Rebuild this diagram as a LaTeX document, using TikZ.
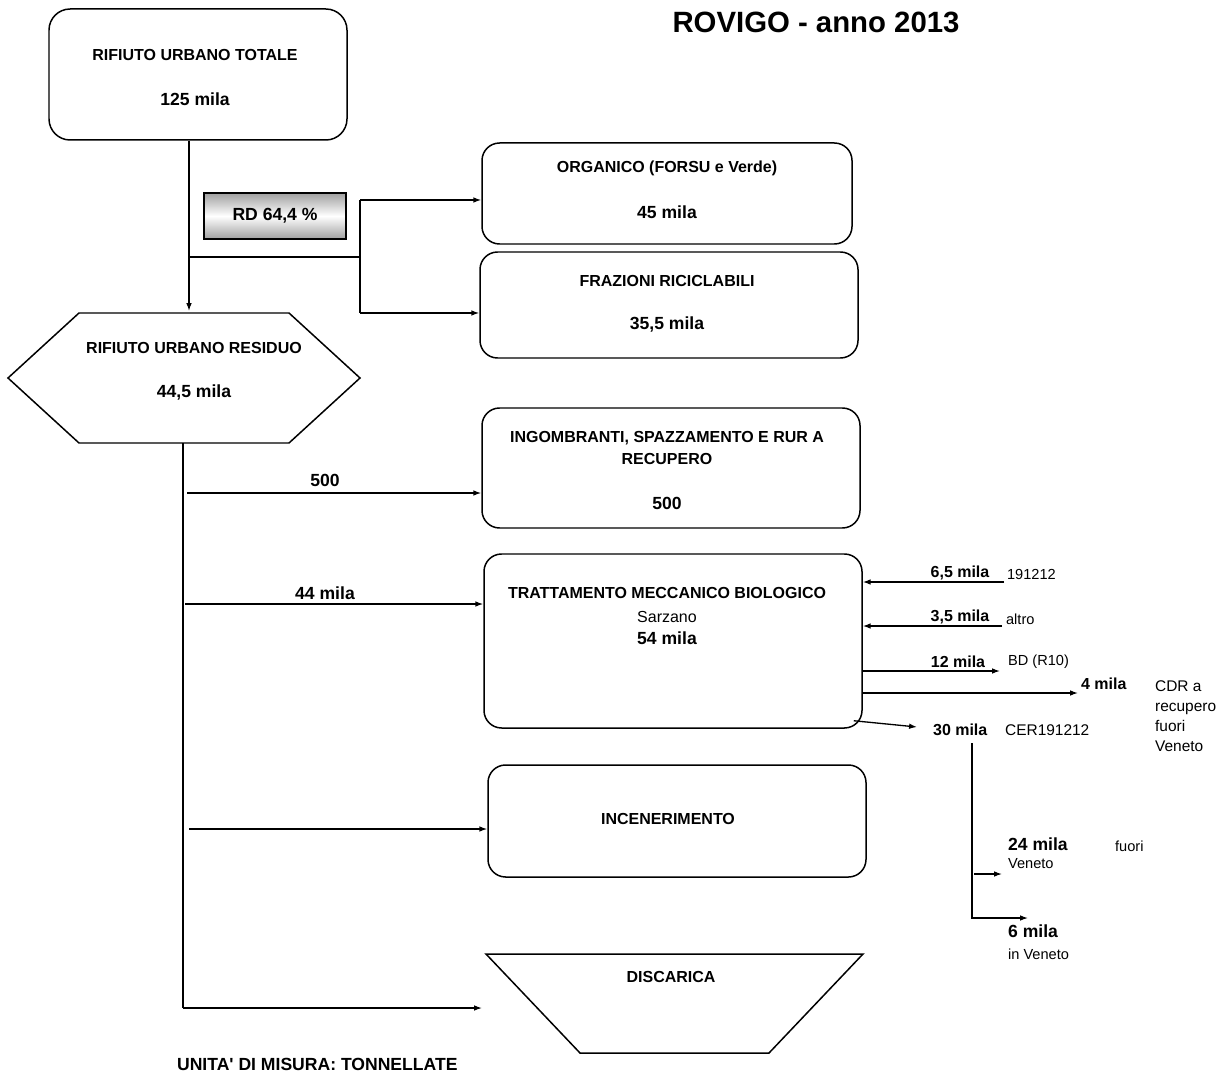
\documentclass[tikz,border=0pt]{standalone}
\usepackage{fontspec}
\setmainfont{Liberation Sans}
\usetikzlibrary{arrows.meta,fit}

\begin{document}
\begin{tikzpicture}[x=0.02cm,y=-0.02cm]
            \tikzset{
                box/.style={draw, line width=0.85pt, rounded corners=10pt, inner sep=0pt},
                hdr/.style={font=\bfseries\fontsize{9.1}{12}\selectfont, inner sep=1pt},
                num/.style={font=\bfseries\fontsize{10}{12}\selectfont, inner sep=1pt},
                note/.style={font=\fontsize{8.3}{10}\selectfont, inner sep=1pt},
                notel/.style={font=\fontsize{8.8}{11.4}\selectfont, inner sep=1pt},
                flow/.style={-{Latex[length=4.5pt,width=3.2pt]}, line width=0.75pt},
                link/.style={line width=0.75pt}
            }
            \useasboundingbox (0,0) rectangle (1226,1077);

            \node[font=\bfseries\fontsize{16.7}{20}\selectfont] (title) at (816,22) {ROVIGO - anno 2013};

            % caselle
            \node[box, rounded corners=12pt, fit={(49,9) (347,140)}] (tot) {};
            \node[hdr] (totT) at (195,55) {RIFIUTO URBANO TOTALE};
            \node[num] (totN) at (195,99) {125 mila};

            \node[draw, line width=1.2pt, inner sep=0pt,
                top color=gray!75, bottom color=gray!75, middle color=white,
                fit={(204,193) (346,239)}] (rd) {};
            \node[num] (rdT) at (rd.center) {RD 64,4 \%};

            \node[box, fit={(482,143) (852,244)}] (org) {};
            \node[hdr] (orgT) at (667,168) {ORGANICO (FORSU e Verde)};
            \node[num] (orgN) at (667,212) {45 mila};

            \node[box, fit={(480,252) (858,358)}] (fraz) {};
            \node[hdr] (frazT) at (667,281) {FRAZIONI RICICLABILI};
            \node[num] (frazN) at (667,324) {35,5 mila};

            \draw[line width=0.85pt] (79,313) -- (289,313) -- (360,378) -- (289,443)
                -- (79,443) -- (8,378) -- cycle;
            \node[hdr] (resT) at (194,348) {RIFIUTO URBANO RESIDUO};
            \node[num] (resN) at (194,392) {44,5 mila};

            \node[box, fit={(482,408) (860,528)}] (ing) {};
            \node[hdr, align=center] (ingT) at (667,448) {INGOMBRANTI, SPAZZAMENTO E RUR A\\RECUPERO};
            \node[num] (ingN) at (667,503) {500};

            \node[box, fit={(484,554) (862,728)}] (tmb) {};
            \node[hdr] (tmbT) at (667,593) {TRATTAMENTO MECCANICO BIOLOGICO};
            \node[font=\fontsize{9.1}{11}\selectfont, inner sep=1pt] (tmbS) at (667,617) {Sarzano};
            \node[num] (tmbN) at (667,638) {54 mila};

            \node[box, fit={(488,765) (866,877)}] (inc) {};
            \node[hdr] (incT) at (668,819) {INCENERIMENTO};

            \draw[line width=0.85pt] (486,954) -- (863,954) -- (769,1053) -- (580,1053) -- cycle;
            \node[hdr] (disT) at (671,977) {DISCARICA};

            \node[num, anchor=west] (unit) at (175,1064) {UNITA\textquotesingle{} DI MISURA: TONNELLATE};

            % punti di snodo
            \coordinate (resTop) at (189,311);
            \coordinate (resBot) at (183,443);
            \coordinate (rdSplit) at (189,257);
            \coordinate (rdHub) at (360,257);
            \coordinate (hubN) at (360,200);
            \coordinate (hubS) at (360,313);
            \coordinate (trunkEnd) at (183,1008);
            \coordinate (disIn) at (482,1008);
            \coordinate (b1) at (187,493);
            \coordinate (b2) at (185,604);
            \coordinate (b3) at (189,829);

            \draw[flow] (tot.south -| resTop) -- (resTop);
            \draw[link] (rdSplit) -- (rdHub);
            \draw[link] (hubN) -- (hubS);
            \draw[flow] (hubN) -- (org.west |- hubN);
            \draw[flow] (hubS) -- (fraz.west |- hubS);

            \draw[link] (resBot) -- (trunkEnd);
            \draw[flow] (trunkEnd) -- (disIn);
            \foreach \src/\dst in {b1/ing, b2/tmb, b3/inc} {
                \draw[flow] (\src) -- (\dst.west |- \src);
            }
            \node[num] (l500) at (325,480) {500};
            \node[num] (l44) at (325,593) {44 mila};

            % ingressi e uscite TMB
            \coordinate (in65) at (1004,582);
            \coordinate (in35) at (1002,626);
            \coordinate (out12) at (1000,671);
            \coordinate (out4) at (1078,693);
            \coordinate (out30) at (917,727);
            \coordinate (s30Top) at (972,743);
            \coordinate (s30Bot) at (972,918);
            \coordinate (out6) at (1028,918);
            \coordinate (s24) at (974,874);
            \coordinate (out24) at (1002,874);

            \draw[flow] (in65) -- (tmb.east |- in65);
            \draw[flow] (in35) -- (tmb.east |- in35);
            \draw[flow] (tmb.east |- out12) -- (out12);
            \draw[flow] (tmb.east |- out4) -- (out4);
            \draw[flow] ([shift={(-9,-8)}]tmb.south east) -- (out30);
            \draw[flow] (s30Top) -- (s30Bot) -- (out6);
            \draw[flow] (s24) -- (out24);

            \node[hdr] (l65) at (960,573) {6,5 mila};
            \node[note, anchor=west] (c65) at (1005,574) {191212};
            \node[hdr] (l35) at (960,617) {3,5 mila};
            \node[note, anchor=west] (c35) at (1004,619) {altro};
            \node[hdr] (l12) at (958,662) {12 mila};
            \node[note, anchor=west] (c12) at (1006,662) {BD (R10)};
            \node[hdr, anchor=west] (l4) at (1079,684) {4 mila};
            \node[notel, anchor=west, align=left] (c4) at (1153,716) {CDR a\\recupero\\fuori\\Veneto};
            \node[hdr, anchor=west] (l30) at (931,730) {30 mila};
            \node[notel, anchor=west] (c30) at (1003,730) {CER191212};
            \node[num, anchor=west] (l24) at (1006,844) {24 mila};
            \node[note, anchor=west] (c24) at (1006,864) {Veneto};
            \node[note, anchor=west] (f24) at (1113,846) {fuori};
            \node[num, anchor=west] (l6) at (1006,931) {6 mila};
            \node[note, anchor=west] (c6) at (1006,954) {in Veneto};
        \end{tikzpicture}
\end{document}
